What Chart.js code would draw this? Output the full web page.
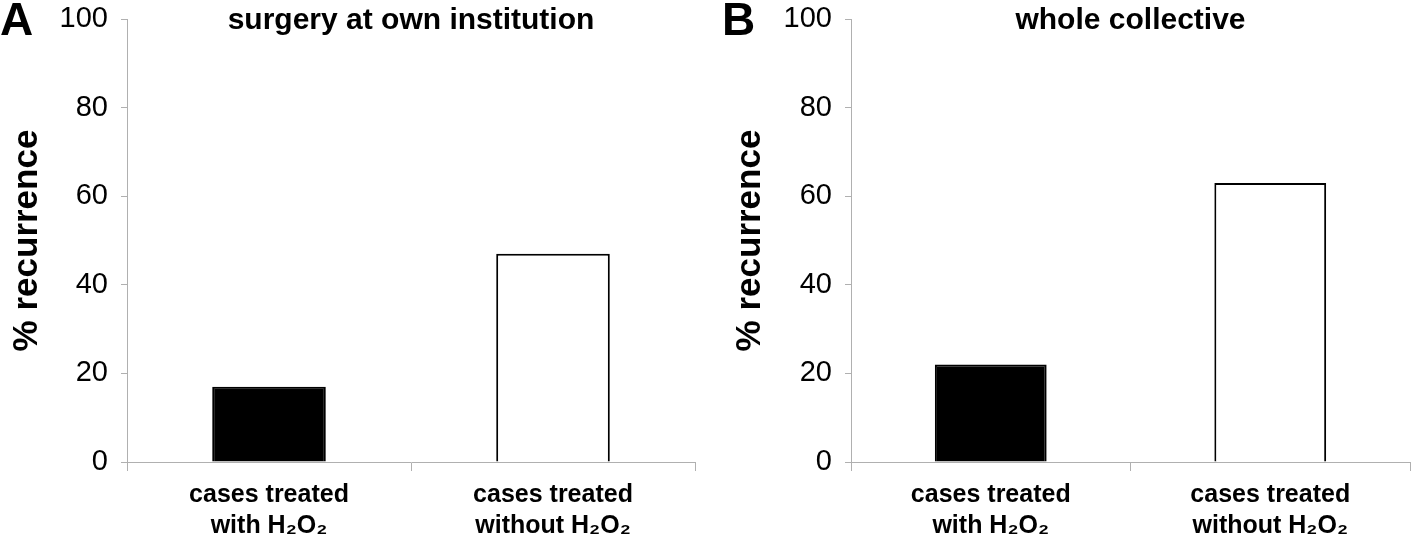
<!DOCTYPE html>
<html>
<head>
<meta charset="utf-8">
<script src="https://cdn.jsdelivr.net/npm/chart.js@4.4.1/dist/chart.umd.min.js"></script>
<style>
  html, body { margin: 0; padding: 0; background: #fff; }
  #wrap { position: relative; width: 1418px; height: 541px; }
  .panel { position: absolute; top: 0; height: 541px; }
</style>
</head>
<body>
<div id="wrap">
  <div class="panel" style="left:0;width:709px"><canvas id="chart-a"></canvas></div>
  <div class="panel" style="left:709px;width:709px"><canvas id="chart-b"></canvas></div>
</div>
<script>
const categories = [['cases treated', 'with H\u2082O\u2082'], ['cases treated', 'without H\u2082O\u2082']];
const ownInstitution = [17, 47];
const wholeCollective = [22, 63];
const yTicks = [0, 20, 40, 60, 80, 100];
const barFill = ['#000000', '#ffffff'];

const SANS = '"Liberation Sans", Arial, sans-serif';
const AXIS = '#b0b0b0';

Chart.defaults.animation = false;
Chart.defaults.responsive = true;
Chart.defaults.maintainAspectRatio = false;
Chart.defaults.plugins.legend.display = false;
Chart.defaults.plugins.tooltip.enabled = false;
Chart.defaults.color = '#000';

// panel letter + title, drawn over the plot area
const panelText = {
  id: 'panelText',
  afterDraw(chart, args, opts) {
    const ctx = chart.ctx;
    const area = chart.chartArea;
    ctx.save();
    ctx.fillStyle = '#000';
    ctx.textBaseline = 'alphabetic';
    ctx.textAlign = 'left';
    ctx.font = 'bold 46px ' + SANS;
    ctx.fillText(opts.letter, opts.letterX, 35);
    ctx.textAlign = 'center';
    ctx.font = 'bold 30px ' + SANS;
    ctx.fillText(opts.title, (area.left + area.right) / 2, 29);
    ctx.restore();
  }
};

function drawPanel(id, values, letter, title, axisWidth, letterX, titlePad, rightPad) {
  return new Chart(id, {
    type: 'bar',
    data: {
      labels: categories,
      datasets: [{
        data: values,
        backgroundColor: barFill,
        borderColor: '#000',
        borderWidth: 2,
        barPercentage: 0.4,
        categoryPercentage: 1
      }]
    },
    options: {
      layout: { padding: { top: 19, right: rightPad, bottom: 0, left: 0 } },
      scales: {
        x: {
          offset: true,
          border: { color: AXIS, width: 1 },
          grid: { display: true, offset: true, drawOnChartArea: false, drawTicks: true, tickLength: 9, color: AXIS },
          ticks: {
            padding: 8,
            maxRotation: 0,
            font: { family: SANS, size: 25, weight: 'bold', lineHeight: 1.25 }
          },
          afterFit: s => { s.height = 79; s.paddingLeft = 0; s.paddingRight = 0; }
        },
        y: {
          min: 0,
          max: 100,
          border: { color: AXIS, width: 1 },
          grid: { drawOnChartArea: false, drawTicks: true, tickLength: 6, color: AXIS },
          afterBuildTicks: s => { s.ticks = yTicks.map(v => ({ value: v })); },
          ticks: {
            padding: 13,
            font: { family: SANS, size: 29 }
          },
          title: {
            display: true,
            text: '% recurrence',
            padding: { top: titlePad, bottom: 0 },
            font: { family: SANS, size: 35, weight: 'bold', lineHeight: 1.2 }
          },
          afterFit: s => { s.width = axisWidth; s.paddingTop = 0; s.paddingBottom = 0; }
        }
      },
      plugins: {
        panelText: { letter: letter, title: title, letterX: letterX }
      }
    },
    plugins: [panelText]
  });
}

drawPanel('chart-a', ownInstitution, 'A', 'surgery at own institution', 127, 0, 6, 14);
drawPanel('chart-b', wholeCollective, 'B', 'whole collective', 142, 13, 20, 8);
</script>
</body>
</html>
